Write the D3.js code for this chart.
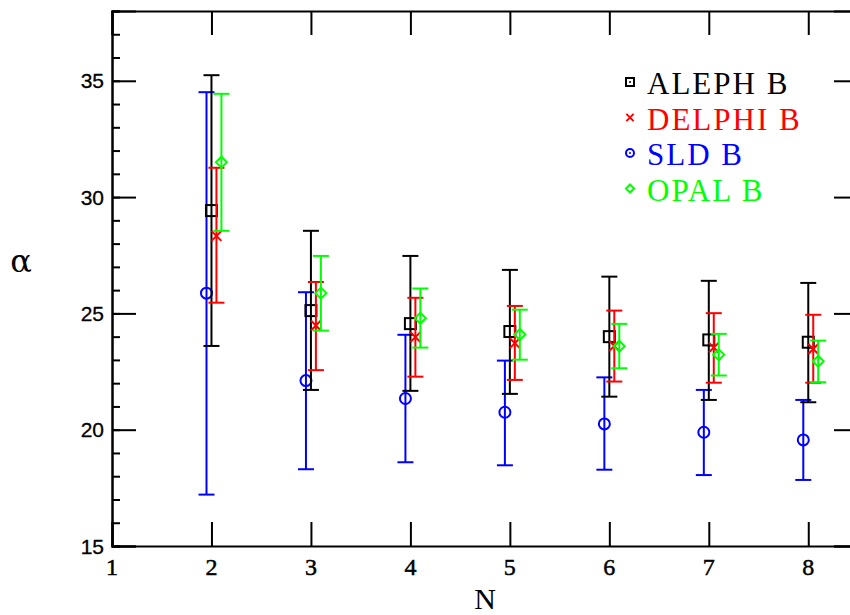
<!DOCTYPE html>
<html>
<head>
<meta charset="utf-8">
<script src="https://cdn.jsdelivr.net/npm/d3@7"></script>
<style>
  body { margin: 0; overflow: hidden; background: white; }
  svg { display: block; }
  .ylab { font-family: "Liberation Sans", Arial, sans-serif; font-size: 21px; stroke: black; stroke-width: 0.3px; }
  .xlab { font-family: "Liberation Serif", serif; font-size: 24px; stroke: black; stroke-width: 0.5px; }
  .legend { font-family: "Liberation Serif", serif; font-size: 31px; letter-spacing: 2px; }
</style>
</head>
<body>
<script>
'use strict';

// values
var nValues = [2, 3, 4, 5, 6, 7, 8];

var aleph   = [29.42, 25.12, 24.56, 24.22, 24.00, 23.86, 23.76];
var alephLo = [23.60, 21.71, 21.67, 21.54, 21.42, 21.28, 21.18];
var alephHi = [35.24, 28.55, 27.47, 26.87, 26.58, 26.40, 26.31];

var delphi   = [28.33, 24.48, 23.98, 23.72, 23.60, 23.53, 23.47];
var delphiLo = [25.46, 22.56, 22.28, 22.14, 22.07, 22.02, 22.02];
var delphiHi = [31.26, 26.35, 25.67, 25.32, 25.12, 25.01, 24.94];

var sld   = [25.87, 22.11, 21.34, 20.75, 20.25, 19.89, 19.56];
var sldLo = [17.21, 18.30, 18.60, 18.47, 18.28, 18.05, 17.84];
var sldHi = [34.51, 25.91, 24.08, 22.97, 22.25, 21.71, 21.28];

var opal   = [31.50, 25.87, 24.79, 24.09, 23.59, 23.22, 22.94];
var opalLo = [28.55, 24.26, 23.53, 23.01, 22.64, 22.33, 22.04];
var opalHi = [34.44, 27.47, 26.07, 25.16, 24.55, 24.12, 23.83];

var xTicks = [1, 2, 3, 4, 5, 6, 7, 8];
var yTicks = [15, 20, 25, 30, 35];
var yMinor = d3.range(15, 39, 1);

var seriesNames = ["ALEPH B", "DELPHI B", "SLD B", "OPAL B"];

var width = 850, height = 615;
var plotL = 112, plotT = 11, plotR = 858, plotB = 546;

var x = d3.scaleLinear().domain([1, 8.5]).range([plotL, plotR]);
var y = d3.scaleLinear().domain([15, 38]).range([plotB, plotT]);

var svg = d3.select("body").append("svg")
    .attr("width", width)
    .attr("height", height);

// frame with inward ticks
function frameAxis(axis, tx, ty) {
    var g = svg.append("g")
        .attr("transform", "translate(" + tx + "," + ty + ")")
        .call(axis);
    g.select(".domain").attr("stroke-width", 2);
    g.selectAll(".tick line").attr("stroke-width", 2);
    return g;
}

frameAxis(d3.axisLeft(y).tickValues(yMinor).tickSize(-8).tickFormat(""), plotL, 0);
frameAxis(d3.axisLeft(y).tickValues(yTicks).tickSize(-24).tickFormat(""), plotL, 0);
frameAxis(d3.axisRight(y).tickValues(yMinor).tickSize(-8).tickFormat(""), plotR, 0);
frameAxis(d3.axisRight(y).tickValues(yTicks).tickSize(-24).tickFormat(""), plotR, 0);
frameAxis(d3.axisBottom(x).tickValues(xTicks).tickSize(-24).tickFormat(""), 0, plotB);
frameAxis(d3.axisTop(x).tickValues(xTicks).tickSize(-24).tickFormat(""), 0, plotT);

svg.selectAll("text.ylab")
    .data(yTicks)
    .enter().append("text")
    .attr("class", "ylab")
    .attr("x", plotL - 8)
    .attr("y", function(d) { return y(d); })
    .attr("dy", "0.36em")
    .attr("text-anchor", "end")
    .text(function(d) { return d; });

svg.selectAll("text.xlab")
    .data(xTicks)
    .enter().append("text")
    .attr("class", "xlab")
    .attr("x", function(d) { return x(d); })
    .attr("y", 575)
    .attr("text-anchor", "middle")
    .text(function(d) { return d; });

svg.append("text")
    .attr("x", x(4.75))
    .attr("y", 609)
    .attr("text-anchor", "middle")
    .style("font-family", "Liberation Serif, serif")
    .style("font-size", "30px")
    .text("N");

svg.append("text")
    .attr("x", 21)
    .attr("y", 272)
    .attr("text-anchor", "middle")
    .style("font-family", "DejaVu Serif, serif")
    .style("font-size", "32px")
    .text("α");

// markers
function drawMarker(g, kind, cx, cy, s, color) {
    var h = s / 2;
    if (kind === "square") {
        g.append("rect").attr("x", cx - h).attr("y", cy - h)
            .attr("width", s).attr("height", s)
            .attr("fill", "none").attr("stroke", color).attr("stroke-width", 2);
    } else if (kind === "circle") {
        g.append("circle").attr("cx", cx).attr("cy", cy).attr("r", h)
            .attr("fill", "none").attr("stroke", color).attr("stroke-width", 2);
    } else if (kind === "diamond") {
        g.append("path")
            .attr("d", "M" + cx + "," + (cy - h) + "L" + (cx + h) + "," + cy +
                "L" + cx + "," + (cy + h) + "L" + (cx - h) + "," + cy + "Z")
            .attr("fill", "none").attr("stroke", color).attr("stroke-width", 2);
    } else {
        var k = h * 0.9;
        g.append("path")
            .attr("d", "M" + (cx - k) + "," + (cy - k) + "L" + (cx + k) + "," + (cy + k) +
                "M" + (cx - k) + "," + (cy + k) + "L" + (cx + k) + "," + (cy - k))
            .attr("fill", "none").attr("stroke", color).attr("stroke-width", 2);
    }
}

var series = [
    { name: seriesNames[2], val: sld,    lo: sldLo,    hi: sldHi,    color: "#0000ff", kind: "circle",  dx: -0.05 },
    { name: seriesNames[0], val: aleph,  lo: alephLo,  hi: alephHi,  color: "#000000", kind: "square",  dx: 0 },
    { name: seriesNames[1], val: delphi, lo: delphiLo, hi: delphiHi, color: "#ff0000", kind: "cross",   dx: 0.05 },
    { name: seriesNames[3], val: opal,   lo: opalLo,   hi: opalHi,   color: "#00ff00", kind: "diamond", dx: 0.1 }
];

var capW = 8;
series.forEach(function(s) {
    var g = svg.append("g");
    nValues.forEach(function(n, i) {
        var cx = x(n + s.dx);
        g.append("line").attr("x1", cx).attr("x2", cx)
            .attr("y1", y(s.lo[i])).attr("y2", y(s.hi[i]))
            .attr("stroke", s.color).attr("stroke-width", 2);
        [s.lo[i], s.hi[i]].forEach(function(v) {
            g.append("line").attr("x1", cx - capW).attr("x2", cx + capW)
                .attr("y1", y(v)).attr("y2", y(v))
                .attr("stroke", s.color).attr("stroke-width", 2);
        });
        drawMarker(g, s.kind, cx, y(s.val[i]), 11, s.color);
    });
});

// legend
var legendOrder = [1, 2, 0, 3];
legendOrder.forEach(function(si, row) {
    var s = series[si];
    var cy = 82 + row * 35.5;
    var g = svg.append("g");
    drawMarker(g, s.kind, 630, cy, 8, s.color);
    if (s.kind !== "cross" && s.kind !== "diamond") {
        g.append("circle").attr("cx", 630).attr("cy", cy).attr("r", 1).attr("fill", s.color);
    }
    g.append("text")
        .attr("class", "legend")
        .attr("x", 647)
        .attr("y", cy + 12)
        .attr("fill", s.color)
        .text(s.name);
});
</script>
</body>
</html>
